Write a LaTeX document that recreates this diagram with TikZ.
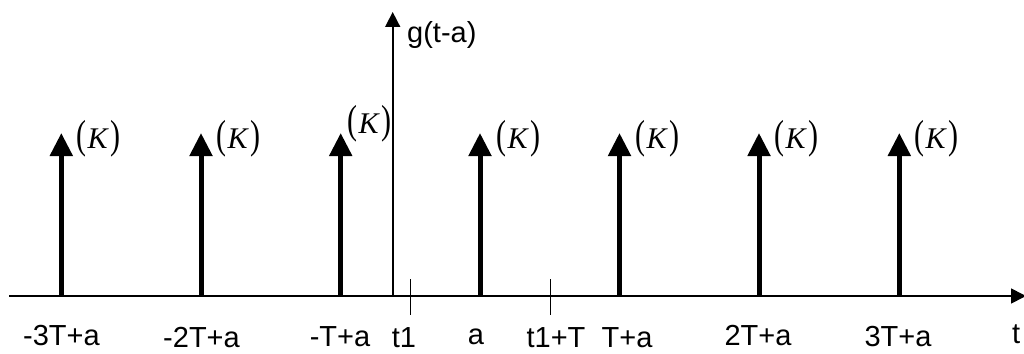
\documentclass[tikz,border=0pt]{standalone}
\usepackage{fontspec}
\setmainfont{Liberation Sans}
\newfontfamily\kfont{Liberation Serif}
\usepackage{graphicx}
\usetikzlibrary{arrows.meta}
\newcommand{\bigparK}{{\kfont\fontsize{30}{32}\selectfont\raisebox{-0.5pt}{\scalebox{1}[1.35]{(}}\hspace{1.5pt}\textit{K}\hspace{1.5pt}\raisebox{-0.5pt}{\scalebox{1}[1.35]{)}}}}
\begin{document}
\begin{tikzpicture}[x=1pt,y=-1pt,
  axis/.style={line width=1.6pt,-{Triangle[width=15pt,length=15pt]}},
  impulse/.style={line width=5pt,-{Triangle[width=22pt,length=23pt]}},
  tick/.style={line width=1.3pt},
  lab/.style={inner sep=0pt,anchor=base,font=\fontsize{29}{31}\selectfont},
  klab/.style={inner sep=0pt,anchor=base west}]
\useasboundingbox (0,0) rectangle (1024,353);
% axes
\coordinate (xs) at (9,296);
\coordinate (xe) at (1026,296);
\coordinate (o) at (392.7,296);
\coordinate (ye) at (392.7,12);
\draw[axis] (xs) -- (xe);
\draw[axis] (o) -- (ye);
\node[lab,anchor=base west] (gl) at (407,42) {g(t-a)};
\node[lab,anchor=base west] (tl) at (1012,343) {t};
% ticks
\coordinate (t1a) at (410.3,279); \coordinate (t1b) at (410.3,315);
\coordinate (t2a) at (550.3,279); \coordinate (t2b) at (550.3,315);
\draw[tick] (t1a) -- (t1b);
\draw[tick] (t2a) -- (t2b);
% impulses
\foreach \n/\x in {m3/61.3,m2/201,m1/340.7,z/480,p1/619.5,p2/759,p3/899.3}{
  \coordinate (b\n) at (\x,296);
  \coordinate (h\n) at (\x,133);
  \draw[impulse] (b\n) -- (h\n);
}
\node[klab] (km3) at (76,148) {\bigparK};
\node[klab] (km2) at (216,148) {\bigparK};
\node[klab] (km1) at (347,133) {\bigparK};
\node[klab] (kz) at (496,148) {\bigparK};
\node[klab] (kp1) at (635,148) {\bigparK};
\node[klab] (kp2) at (774,148) {\bigparK};
\node[klab] (kp3) at (914,148) {\bigparK};
% bottom labels
\node[lab] (lm3) at (61.5,345.5) {-3T+a};
\node[lab] (lm2) at (201.5,347) {-2T+a};
\node[lab] (lm1) at (340,346.5) {-T+a};
\node[lab] (lt1) at (404,347) {t1};
\node[lab] (lz) at (476,344.5) {a};
\node[lab] (lt2) at (556,347) {t1+T};
\node[lab] (lp1) at (627,347) {T+a};
\node[lab] (lp2) at (758,345.5) {2T+a};
\node[lab] (lp3) at (898,346.5) {3T+a};
\end{tikzpicture}
\end{document}
